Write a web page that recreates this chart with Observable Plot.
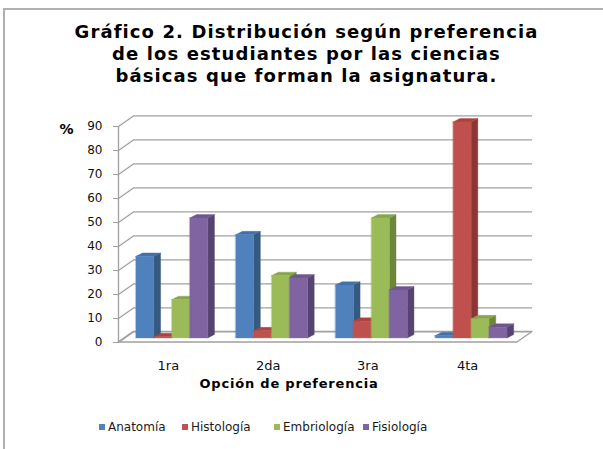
<!DOCTYPE html>
<html>
<head>
<meta charset="utf-8">
<script src="https://cdn.jsdelivr.net/npm/d3@7"></script>
<script src="https://cdn.jsdelivr.net/npm/@observablehq/plot@0.6"></script>
<style>
  html, body { margin: 0; padding: 0; background: #fff; }
  body { width: 603px; height: 449px; position: relative; overflow: hidden; font-family: "DejaVu Sans", Verdana, sans-serif; }
  #frame { position: absolute; left: 3px; top: 8px; width: 700px; height: 600px; border-top: 2px solid #b0b0b0; border-left: 2px solid #b0b0b0; }
  #title { position: absolute; left: 10px; top: 21px; width: 593px; text-align: center; font-weight: bold; font-size: 18px; line-height: 22px; letter-spacing: 1.1px; color: #000; }
  #chart { position: absolute; left: 0; top: 100px; }
  #legend { position: absolute; left: 0; top: 420px; width: 603px; height: 14px; font-size: 12px; color: #1a1a1a; }
  #legend span.item { position: absolute; top: 0; display: inline-flex; align-items: center; white-space: nowrap; }
  #legend span.sw { display: inline-block; width: 6px; height: 6px; margin-right: 3px; }
</style>
</head>
<body>
<div id="frame"></div>
<div id="title">Gráfico 2. Distribución según preferencia<br>de los estudiantes por las ciencias<br>básicas que forman la asignatura.</div>
<div id="chart"></div>
<div id="legend"></div>
<script>
// ---- data ----
const categories = ["1ra", "2da", "3ra", "4ta"];
const series = ["Anatomía", "Histología", "Embriología", "Fisiología"];
const anatomia    = [34, 43, 22, 1];
const histologia  = [0.5, 3, 7, 90];
const embriologia = [16, 26, 50, 8];
const fisiologia  = [50, 25, 20, 4.5];
const yTicks = [0, 10, 20, 30, 40, 50, 60, 70, 80, 90];
const xTitle = "Opción de preferencia";
const yTitle = "%";

// ---- styles / layout ----
const frontColors = ["#4F81BD", "#C0504D", "#9BBB59", "#8064A2"];
const topColors   = ["#4370A8", "#A94441", "#87A54C", "#6E568E"];
const sideColors  = ["#35597F", "#8A3634", "#6C863A", "#574370"];
const grid = "#a0a0a0";
const legendLeft = [99, 182, 274, 363];

const values = [anatomia, histologia, embriologia, fisiologia];

// 3D geometry in data units
const DX = 0.15, DY = 4.4;       // wall depth
const OX = 0.04, B = 1.7;        // bar placement (mid-depth)
const BW = 0.18;                 // bar width
const SX = 0.067, SY = 1.4;      // bar depth
const N = categories.length;

// polygons for bars (side, top, front for each bar, drawn left to right)
const polys = [];
let pid = 0;
categories.forEach((c, i) => {
  series.forEach((s, j) => {
    const v = values[j][i];
    const x1 = i + 0.5 + OX - 2 * BW + j * BW, x2 = x1 + BW;
    const t = v + B;
    const add = (pts, color) => { pid++; pts.forEach(([x, y1, y2]) => polys.push({pid, x, y1, y2, color})); };
    add([[x2, B, t], [x2 + SX, B + SY, t + SY]], sideColors[j]);
    add([[x1, t, t], [x1 + SX, t, t + SY], [x2, t, t + SY], [x2 + SX, t + SY, t + SY]], topColors[j]);
    add([[x1, B, t], [x2, B, t]], frontColors[j]);
  });
});

const floor = [
  {x: 0, y1: 0, y2: 0},
  {x: DX, y1: 0, y2: DY},
  {x: N, y1: 0, y2: DY},
  {x: N + DX, y1: DY, y2: DY}
];

const chart = Plot.plot({
  width: 603,
  height: 305,
  marginLeft: 118,
  marginRight: 86,
  marginTop: 26,
  marginBottom: 63,
  style: {fontFamily: "DejaVu Sans, Verdana, sans-serif", fontSize: "12px", overflow: "visible", background: "transparent"},
  x: {domain: [0, N], axis: null},
  y: {domain: [0, 90], axis: null},
  color: {type: "identity"},
  marks: [
    Plot.areaY(floor, {x: "x", y1: "y1", y2: "y2", fill: "white", stroke: grid, strokeWidth: 1.3, curve: "linear"}),
    Plot.ruleY(yTicks, {y: d => d + DY, x1: DX, x2: N + DX, stroke: grid, strokeWidth: 1.3}),
    Plot.link(yTicks, {x1: 0, y1: d => d, x2: DX, y2: d => d + DY, stroke: grid, strokeWidth: 1.3}),
    Plot.ruleX([0], {y1: 0, y2: 90, stroke: grid, strokeWidth: 1.3}),
    Plot.axisY({ticks: yTicks, tickSize: 5, tickPadding: 11, label: null, stroke: grid, fill: "#111", fontSize: 12}),
    Plot.areaY(polys, {x: "x", y1: "y1", y2: "y2", z: "pid", fill: "color", stroke: "color", strokeWidth: 0.4, curve: "linear"}),
    Plot.text(categories, {x: (d, i) => i + 0.5, y: 0, dy: 23, text: d => d, fill: "#111", fontSize: 13}),
    Plot.text([xTitle], {frameAnchor: "bottom", dx: -29, dy: 45, text: d => d, fontWeight: "bold", fontSize: 13, fill: "#000"}),
    Plot.text([yTitle], {frameAnchor: "top-left", lineAnchor: "middle", dx: -59, dy: 3, text: d => d, fontWeight: "bold", fontSize: 14, fill: "#000"})
  ]
});
d3.select(chart).selectAll("text").filter(function() { return this.textContent === xTitle; })
  .attr("letter-spacing", "0.8px");
document.getElementById("chart").appendChild(chart);

const legend = document.getElementById("legend");
series.forEach((s, j) => {
  const item = document.createElement("span");
  item.className = "item";
  item.style.left = legendLeft[j] + "px";
  const sw = document.createElement("span");
  sw.className = "sw";
  sw.style.background = frontColors[j];
  item.appendChild(sw);
  item.appendChild(document.createTextNode(s));
  legend.appendChild(item);
});
</script>
</body>
</html>
